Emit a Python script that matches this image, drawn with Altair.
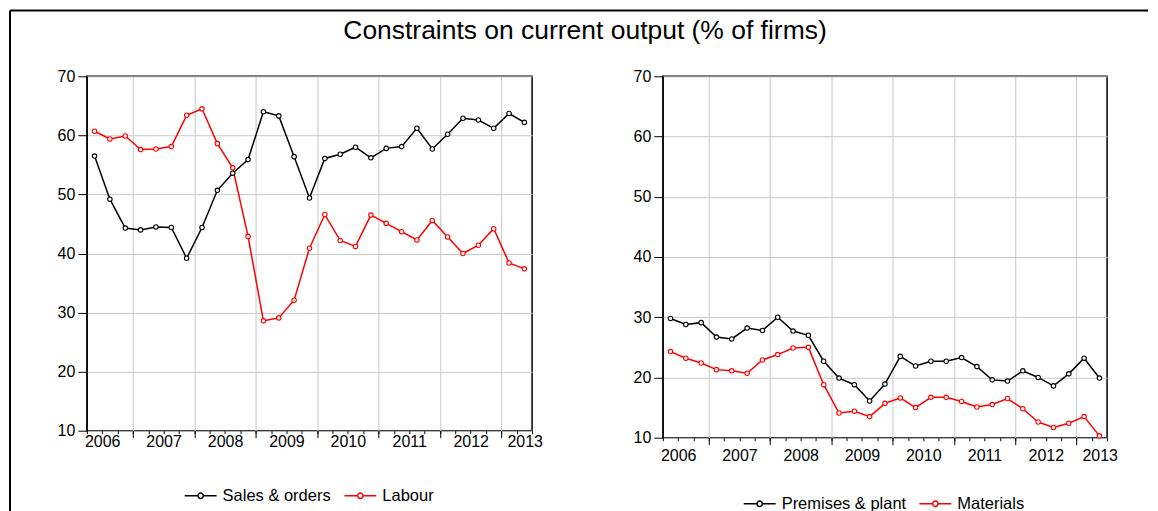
import altair as alt
import pandas as pd

TITLE = "Constraints on current output (% of firms)"

quarters = ["2006Q2", "2006Q3", "2006Q4",
            "2007Q1", "2007Q2", "2007Q3", "2007Q4",
            "2008Q1", "2008Q2", "2008Q3", "2008Q4",
            "2009Q1", "2009Q2", "2009Q3", "2009Q4",
            "2010Q1", "2010Q2", "2010Q3", "2010Q4",
            "2011Q1", "2011Q2", "2011Q3", "2011Q4",
            "2012Q1", "2012Q2", "2012Q3", "2012Q4",
            "2013Q1", "2013Q2"]

sales_orders = [56.5, 49.2, 44.3, 44.0, 44.5, 44.4, 39.2, 44.4, 50.7, 53.6,
                55.9, 64.0, 63.3, 56.4, 49.4, 56.1, 56.8, 58.0, 56.2, 57.8,
                58.1, 61.2, 57.7, 60.2, 62.9, 62.6, 61.2, 63.7, 62.2]
labour = [60.7, 59.4, 59.9, 57.6, 57.7, 58.1, 63.4, 64.5, 58.6, 54.5,
          42.9, 28.6, 29.1, 32.1, 40.9, 46.6, 42.2, 41.2, 46.5, 45.1,
          43.7, 42.3, 45.6, 42.8, 40.0, 41.4, 44.2, 38.4, 37.4]
premises_plant = [29.8, 28.8, 29.1, 26.7, 26.4, 28.2, 27.8, 30.0, 27.7, 27.0,
                  22.7, 19.9, 18.8, 16.1, 18.9, 23.5, 21.9, 22.7, 22.7, 23.3,
                  21.8, 19.6, 19.4, 21.1, 20.0, 18.6, 20.6, 23.2, 19.9]
materials = [24.3, 23.2, 22.4, 21.3, 21.1, 20.7, 22.9, 23.8, 24.9, 25.0,
             18.8, 14.1, 14.4, 13.5, 15.7, 16.6, 15.0, 16.7, 16.7, 16.0,
             15.1, 15.5, 16.5, 14.8, 12.6, 11.7, 12.4, 13.5, 10.3]

left_names = ["Sales & orders", "Labour"]
right_names = ["Premises & plant", "Materials"]
series_colors = ["#000000", "#ff0000"]

year_lines = [2007, 2008, 2009, 2010, 2011, 2012, 2013]
quarter_ticks = [2006.25 + 0.25 * i for i in range(30)]
label_positions = [2006.5, 2007.5, 2008.5, 2009.5, 2010.5, 2011.5, 2012.5, 2013.38]
y_ticks = [10, 20, 30, 40, 50, 60, 70]

FONT = "Liberation Sans"
SYMBOL = ("M-1,0L-0.17,0M0.17,0L1,0"
          "M-0.17,0A0.17,0.17 0 1,1 0.17,0A0.17,0.17 0 1,1 -0.17,0Z")


def qpos(q):
    return int(q[:4]) + (int(q[5]) - 0.5) / 4


def panel(names, a, b, width, height, label_pad, lx, ly, extra=()):
    df = pd.DataFrame({
        "t": [qpos(q) for q in quarters] * 2,
        "v": list(a) + list(b),
        "series": [names[0]] * len(a) + [names[1]] * len(b),
    })
    xs = alt.Scale(domain=[2006.25, 2013.5], nice=False, zero=False)
    ys = alt.Scale(domain=[10, 70], nice=False, zero=False)
    y_axis = alt.Axis(values=y_ticks, grid=True, tickSize=9, labelPadding=3,
                      title=None)
    y_enc = alt.Y("v:Q", scale=ys, axis=y_axis)
    stroke = alt.Stroke(
        "series:N",
        scale=alt.Scale(domain=names, range=series_colors),
        sort=names,
        legend=alt.Legend(
            title=None, orient="none", legendX=lx, legendY=ly,
            direction="horizontal", symbolType=SYMBOL, symbolSize=1024,
            symbolStrokeWidth=1.5, symbolFillColor="white",
            labelFont=FONT, labelFontSize=16.5, labelColor="black",
            columnPadding=10, labelOffset=5,
        ),
    )
    lines = alt.Chart(df).mark_line(strokeWidth=1.5).encode(
        x=alt.X("t:Q", scale=xs, axis=alt.Axis(
            values=year_lines, grid=True, labels=False, tickSize=7,
            domain=False, orient="bottom", title=None)),
        y=y_enc,
        stroke=stroke,
        order="t:Q",
    )
    points = alt.Chart(df).mark_point(
        filled=True, fill="white", size=20, strokeWidth=1.1, opacity=1
    ).encode(
        x=alt.X("t:Q", scale=xs, axis=alt.Axis(
            values=quarter_ticks, grid=False, labels=False, tickSize=3,
            domain=False, orient="bottom", title=None)),
        y=y_enc,
        stroke=stroke,
    )
    labels = alt.Chart(df).mark_point(opacity=0).encode(
        x=alt.X("t:Q", scale=xs, axis=alt.Axis(
            values=label_positions,
            labelExpr="format(floor(datum.value), 'd')",
            ticks=False, domain=False, grid=False, labelPadding=label_pad,
            orient="bottom", title=None)),
        y=y_enc,
    )
    return alt.layer(lines, points, labels, *extra).resolve_axis(
        x="independent", y="shared").properties(width=width, height=height)


one = alt.Data(values=[{}])
frame_v = alt.Chart(one).mark_rule(color="black", strokeWidth=2).encode(
    x=alt.value(-77), y=alt.value(-66), y2=alt.value(436))
frame_h = alt.Chart(one).mark_rule(color="black", strokeWidth=2).encode(
    x=alt.value(-77), x2=alt.value(1063), y=alt.value(-66))
title = alt.Chart(one).mark_text(
    text=TITLE, font=FONT, fontSize=26.5, align="center",
    baseline="alphabetic", color="black").encode(
    x=alt.value(499), y=alt.value(-37))

left = panel(left_names, sales_orders, labour, 446, 355, 3, 97, 403,
             extra=(frame_v, frame_h, title))
right = panel(right_names, premises_plant, materials, 445, 362, 10, 80, 411)

chart = alt.hconcat(left, right, spacing=131, bounds="flush").resolve_scale(
    x="independent", y="independent", stroke="independent"
).properties(
    padding={"left": 0, "top": 0, "right": 0, "bottom": 0},
    background="white",
).configure_view(
    stroke="black", strokeWidth=1.5
).configure_axis(
    labelFont=FONT, labelFontSize=16, labelColor="black",
    tickColor="black", domainColor="black", gridColor="#c8c8c8",
    gridWidth=1, tickWidth=1,
)

chart.save("out.html", embed_options={"renderer": "svg", "actions": False})
